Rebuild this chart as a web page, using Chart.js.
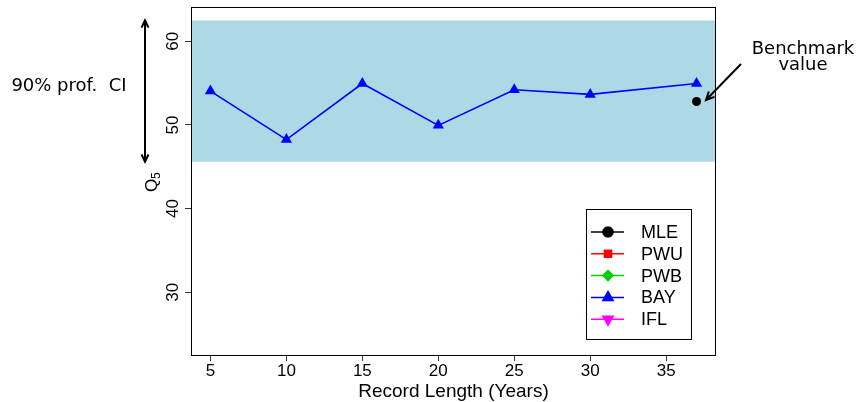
<!DOCTYPE html>
<html>
<head>
<meta charset="utf-8">
<script src="https://cdn.jsdelivr.net/npm/chart.js@4/dist/chart.umd.min.js"></script>
<style>
  body { margin: 0; background: #fff; }
  canvas { display: block; }
</style>
</head>
<body>
<canvas id="grafica" width="857" height="402"></canvas>
<script>
// datos
const recordLength = [5, 10, 15, 20, 25, 30, 37];
const bayQ5 = [54.05, 48.25, 54.95, 49.95, 54.2, 53.65, 54.95];
const benchmarkX = [37];
const benchmarkQ5 = [52.8];
const ciBand = [45.6, 62.5]; // 90% prof. CI
const xTicks = [5, 10, 15, 20, 25, 30, 35];
const yTicks = [30, 40, 50, 60];
const seriesNames = ["MLE", "PWU", "PWB", "BAY", "IFL"];
const seriesColors = ["#000000", "#ff0000", "#00cd00", "#0000ff", "#ff00ff"];
const seriesMarkers = ["circle", "rect", "rectRot", "triangle", "triangle"];
const seriesRotation = [0, 0, 0, 0, 180];

const SANS = "'Liberation Sans', Arial, sans-serif";
const NOTE = "'DejaVu Sans', sans-serif";

function flecha(ctx, x1, y1, x2, y2, len) {
  // punta abierta tipo R en (x2, y2)
  const a = Math.atan2(y2 - y1, x2 - x1);
  ctx.beginPath();
  ctx.moveTo(x1, y1);
  ctx.lineTo(x2, y2);
  ctx.moveTo(x2 - len * Math.cos(a - 0.45), y2 - len * Math.sin(a - 0.45));
  ctx.lineTo(x2, y2);
  ctx.lineTo(x2 - len * Math.cos(a + 0.45), y2 - len * Math.sin(a + 0.45));
  ctx.stroke();
}

const anotaciones = {
  id: "anotaciones",
  beforeDatasetsDraw(chart) {
    const { ctx, chartArea: a, scales: { y } } = chart;
    const top = y.getPixelForValue(ciBand[1]);
    const bot = y.getPixelForValue(ciBand[0]);
    ctx.save();
    ctx.fillStyle = "#add8e6";
    ctx.fillRect(a.left, top, a.right - a.left, bot - top);
    ctx.restore();
  },
  afterDraw(chart) {
    const { ctx, chartArea: a, scales: { y } } = chart;
    ctx.save();

    // caja
    ctx.strokeStyle = "#000";
    ctx.lineWidth = 1;
    ctx.strokeRect(a.left + 0.5, a.top + 0.5, a.right - a.left - 1, a.bottom - a.top);

    // etiquetas eje y (giradas)
    ctx.fillStyle = "#000";
    ctx.font = "17px " + SANS;
    ctx.textAlign = "center";
    ctx.textBaseline = "middle";
    yTicks.forEach(v => {
      ctx.save();
      ctx.translate(173, y.getPixelForValue(v));
      ctx.rotate(-Math.PI / 2);
      ctx.fillText(String(v), 0, 0);
      ctx.restore();
    });

    // titulo eje y: Q5
    ctx.save();
    ctx.translate(152, 183);
    ctx.rotate(-Math.PI / 2);
    ctx.textAlign = "left";
    ctx.font = "17px " + SANS;
    ctx.fillText("Q", -9, 0);
    ctx.font = "12px " + SANS;
    ctx.fillText("5", 4, 5);
    ctx.restore();

    // titulo eje x
    ctx.font = "19px " + SANS;
    ctx.textAlign = "center";
    ctx.fillText("Record Length (Years)", (a.left + a.right) / 2, 392);

    // flecha doble del intervalo
    const top = y.getPixelForValue(ciBand[1]);
    const bot = y.getPixelForValue(ciBand[0]);
    ctx.strokeStyle = "#000";
    ctx.lineWidth = 2;
    flecha(ctx, 145, (top + bot) / 2, 145, top, 8);
    flecha(ctx, 145, (top + bot) / 2, 145, bot, 8);
    ctx.font = "18px " + NOTE;
    ctx.fillText("90% prof.  CI", 69, 86);

    // benchmark
    ctx.fillText("Benchmark", 803, 49);
    ctx.fillText("value", 803, 65);
    ctx.lineWidth = 2;
    flecha(ctx, 741, 64, 706, 100, 9);

    // leyenda
    ctx.lineWidth = 1;
    ctx.strokeRect(586.5, 209.5, 105, 130);
    seriesNames.forEach((name, i) => {
      const yy = 232 + i * 21.8;
      ctx.strokeStyle = seriesColors[i];
      ctx.fillStyle = seriesColors[i];
      ctx.lineWidth = 1.5;
      ctx.beginPath();
      ctx.moveTo(591, yy);
      ctx.lineTo(624, yy);
      ctx.stroke();
      Chart.helpers.drawPoint(ctx, {
        pointStyle: seriesMarkers[i],
        radius: seriesMarkers[i] === "triangle" ? 6 : 5,
        rotation: seriesRotation[i],
        borderWidth: 1
      }, 608, yy);
      ctx.fillStyle = "#000";
      ctx.font = "18px " + SANS;
      ctx.textAlign = "left";
      ctx.fillText(name, 641, yy + 1);
    });

    ctx.restore();
  }
};

new Chart(document.getElementById("grafica"), {
  type: "scatter",
  data: {
    datasets: [{
      label: "BAY",
      data: recordLength.map((x, i) => ({ x, y: bayQ5[i] })),
      showLine: true,
      borderColor: "#0000ff",
      backgroundColor: "#0000ff",
      borderWidth: 1.6,
      pointStyle: "triangle",
      pointRadius: 6.5,
      pointBorderWidth: 0,
    }, {
      label: "Benchmark",
      data: benchmarkX.map((x, i) => ({ x, y: benchmarkQ5[i] })),
      borderColor: "#000",
      backgroundColor: "#000",
      pointStyle: "circle",
      pointRadius: 4.5,
      pointBorderWidth: 0,
    }],
  },
  options: {
    responsive: false,
    devicePixelRatio: 1,
    animation: false,
    layout: { padding: { left: 0, top: 7, right: 141, bottom: 0 } },
    plugins: { legend: { display: false }, tooltip: { enabled: false } },
    scales: {
      x: {
        type: "linear",
        min: 3.72,
        max: 38.28,
        afterFit: s => { s.height = 47; },
        afterBuildTicks: s => { s.ticks = xTicks.map(v => ({ value: v })); },
        grid: { drawOnChartArea: false, drawTicks: true, tickLength: 6, color: "#333" },
        border: { display: false },
        ticks: { color: "#000", font: { family: SANS, size: 17 }, padding: 0 },
      },
      y: {
        type: "linear",
        min: 22.5,
        max: 64.1,
        afterFit: s => { s.width = 191; },
        afterBuildTicks: s => { s.ticks = yTicks.map(v => ({ value: v })); },
        grid: { drawOnChartArea: false, drawTicks: true, tickLength: 6, color: "#333" },
        border: { display: false },
        ticks: { display: false },
      },
    },
  },
  plugins: [anotaciones],
});
</script>
</body>
</html>
